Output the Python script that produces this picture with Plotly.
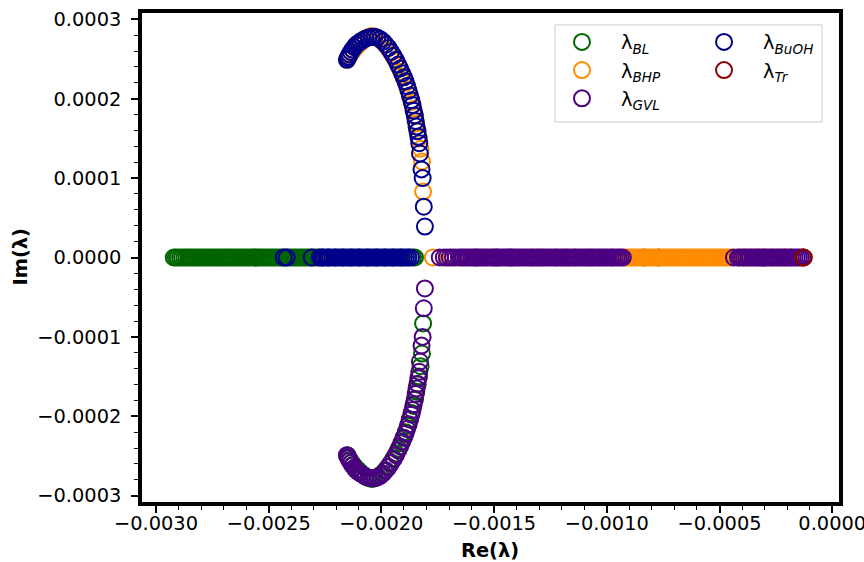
import plotly.graph_objects as go

SCALE = 1e-6  # values below are in micro-units

# ---------------- real eigenvalues (Im = 0) ----------------
bl_real = [-2921, -2912, -2903, -2893, -2884, -2874, -2865, -2856, -2846, -2837, -2828, -2818,
           -2809, -2800, -2790, -2781, -2772, -2762, -2753, -2744, -2734, -2725, -2716, -2706,
           -2697, -2688, -2678, -2669, -2660, -2650, -2641, -2632, -2622, -2613, -2604, -2594,
           -2585, -2576, -2566, -2557, -2548, -2538, -2529, -2520, -2510, -2501, -2492, -2482,
           -2473, -2464, -2454, -2445, -2436, -2426, -2417, -2408, -2398, -2389, -2380, -2370,
           -2361, -2352, -2342, -2333, -2324, -2314, -2305, -2296, -2286, -2277,
           -2262, -2235, -2204, -2171, -2135, -2098, -2060, -2022, -1985, -1948, -1912, -1880,
           -1860, -1851, -1580, -1490, -836, -770]
bhp_real = [-1772, -1690, -1563, -1497, -1420, -1329, -1297, -1222, -1177, -1142, -1075, -1030,
            -975, -921, -912, -903, -893, -884, -875, -865, -856, -847, -837, -828, -819, -809,
            -800, -791, -781, -772, -763, -753, -744, -735, -725, -716, -707, -697, -688, -679,
            -669, -660, -651, -641, -632, -623, -613, -604, -595, -585, -576, -567, -557, -548,
            -539, -529, -520, -511, -501, -492, -483, -473, -464, -455, -445,
            -420, -390, -360, -330, -300, -270, -240, -210, -185]
gvl_real = [-1741, -1723, -1710, -1697, -1683, -1670, -1656, -1647, -1638, -1628, -1619, -1610,
            -1600, -1591, -1582, -1572, -1563, -1554, -1544, -1535, -1526, -1516, -1507, -1498,
            -1488, -1479, -1470, -1460, -1451, -1442, -1432, -1423, -1414, -1404, -1395, -1386,
            -1376, -1367, -1358, -1348, -1339, -1330, -1320, -1311, -1302, -1292, -1283, -1274,
            -1264, -1255, -1246, -1236, -1227, -1218, -1208, -1199, -1190, -1180, -1171, -1162,
            -1152, -1143, -1134, -1124, -1115, -1106, -1096, -1087, -1078, -1068, -1059, -1050,
            -1040, -1031, -1022, -1012, -1003, -994, -984, -975, -966, -956, -947, -938, -929,
            -436, -418, -409, -400, -391, -381, -372, -363, -353, -344, -335, -325, -316, -307,
            -297, -288, -279, -269, -260, -251, -241, -232, -223, -213, -204, -195, -185, -176,
            -167, -157, -148, -139, -130]
buoh_real = [-2433, -2420, -2309, -2273, -2264, -2255, -2245, -2236, -2227, -2217, -2208, -2199,
             -2189, -2180, -2171, -2161, -2152, -2143, -2133, -2124, -2115, -2105, -2096, -2087,
             -2077, -2068, -2059, -2049, -2040, -2031, -2021, -2012, -2003, -1993, -1984, -1975,
             -1965, -1956, -1947, -1937, -1928, -1919, -1909, -1900, -1891, -1881, -1869]
tr_real = [-128, -126]

# ---------------- complex branches ----------------
buoh_arc_re = [-1807, -1812, -1817, -1822, -1829, -1832, -1836, -1840, -1844, -1848, -1852, -1857,
               -1862, -1867, -1873, -1879, -1886, -1893, -1900, -1908, -1917, -1926, -1936, -1946,
               -1957, -1968, -1980, -1992, -2005, -2018, -2031, -2044, -2057, -2070, -2082, -2093,
               -2103, -2112, -2120, -2128, -2135, -2141, -2146, -2150, -2153]
buoh_arc_im = [39, 64, 100, 111, 131, 144, 152, 159, 165, 172, 179, 185,
               192, 198, 204, 210, 216, 222, 227, 232, 238, 243, 249, 254,
               259, 264, 268, 272, 275, 277, 278, 278, 277, 276, 274, 272,
               270, 268, 265, 262, 259, 256, 253, 251, 249]
bhp_arc_re = [-1815, -1820, -1826, -1833, -1839, -1845, -1851, -1858, -1866, -1874, -1883, -1892,
              -1902, -1912, -1923, -1934, -1946, -1959, -1972, -1986, -2000, -2014, -2028, -2042,
              -2056, -2070, -2083, -2095, -2106, -2116, -2125, -2133, -2140, -2146, -2151]
bhp_arc_im = [83, 121, 137, 150, 160, 169, 178, 187, 196, 204, 212, 220,
              227, 234, 241, 247, 253, 259, 264, 269, 273, 276, 278, 279,
              278, 276, 273, 270, 267, 264, 261, 258, 255, 252, 249]
gvl_arc_re = [-1807, -1812, -1817, -1822, -1829, -1832, -1836, -1840, -1844, -1848, -1852, -1857,
              -1862, -1867, -1873, -1879, -1886, -1893, -1900, -1908, -1917, -1926, -1936, -1946,
              -1957, -1968, -1980, -1992, -2005, -2018, -2031, -2044, -2057, -2070, -2082, -2093,
              -2103, -2112, -2120, -2128, -2135, -2141, -2146, -2150, -2153]
gvl_arc_im = [-39, -64, -100, -111, -131, -144, -152, -159, -165, -172, -179, -185,
              -192, -198, -204, -210, -216, -222, -227, -232, -238, -243, -249, -254,
              -259, -264, -268, -272, -275, -277, -278, -278, -277, -276, -274, -272,
              -270, -268, -265, -262, -259, -256, -253, -251, -249]
bl_arc_re = [-1815, -1820, -1826, -1833, -1839, -1845, -1851, -1858, -1866, -1874, -1883, -1892,
             -1902, -1912, -1923, -1934, -1946, -1959, -1972, -1986, -2000, -2014, -2028, -2042,
             -2056, -2070, -2083, -2095, -2106, -2116, -2125, -2133, -2140, -2146, -2151]
bl_arc_im = [-83, -121, -137, -150, -160, -169, -178, -187, -196, -204, -212, -220,
             -227, -234, -241, -247, -253, -259, -264, -269, -273, -276, -278, -279,
             -278, -276, -273, -270, -267, -264, -261, -258, -255, -252, -249]

series = [
    # name, label, color, real list, arc re, arc im, legend
    ("BL", "λ<sub><i>BL</i></sub>", "#006400", bl_real, bl_arc_re, bl_arc_im, "legend"),
    ("BHP", "λ<sub><i>BHP</i></sub>", "#ff8c00", bhp_real, bhp_arc_re, bhp_arc_im, "legend"),
    ("GVL", "λ<sub><i>GVL</i></sub>", "#4b0082", gvl_real, gvl_arc_re, gvl_arc_im, "legend"),
    ("BuOH", "λ<sub><i>BuOH</i></sub>", "#00008b", buoh_real, buoh_arc_re, buoh_arc_im, "legend2"),
    ("Tr", "λ<sub><i>Tr</i></sub>", "#8b0000", tr_real, [], [], "legend2"),
]

fig = go.Figure()
for i, (key, label, color, real, are, aim, leg) in enumerate(series):
    xs = [v * SCALE for v in real] + [v * SCALE for v in are]
    ys = [0.0] * len(real) + [v * SCALE for v in aim]
    fig.add_trace(go.Scatter(
        x=xs, y=ys, mode="markers", name=label, legend=leg, legendgroup=key,
        marker=dict(symbol="circle-open", size=16, color=color, line=dict(width=2)),
    ))

FONT = "DejaVu Sans"
axis_common = dict(
    showline=True, linecolor="black", linewidth=3.5, mirror=True, automargin=False,
    ticks="outside", ticklen=7, tickwidth=1.5, tickcolor="black",
    showgrid=False, zeroline=False, tickformat=".4f", ticklabeloverflow="allow",
    tickfont=dict(family=FONT, size=19.4, color="black"),
)
fig.update_xaxes(
    range=[-0.003062, 0.000030], tick0=0, dtick=0.0005,
    minor=dict(ticks="outside", ticklen=4, tickwidth=1.2, tickcolor="black", dtick=0.0001),
    ticklabelstandoff=-6,
    **axis_common,
)
fig.update_yaxes(
    range=[-0.000308, 0.000308], tick0=0, dtick=0.0001,
    minor=dict(ticks="outside", ticklen=4, tickwidth=1.2, tickcolor="black", dtick=0.00002),
    ticklabelstandoff=6,
    **axis_common,
)

legend_common = dict(
    bgcolor="rgba(0,0,0,0)", borderwidth=0, yanchor="top", xanchor="left",
    font=dict(family=FONT, size=19.4, color="black"), tracegroupgap=0, itemwidth=68,
)
title_font = dict(family=FONT, size=19.4, color="black")
fig.update_layout(
    template="none",
    width=864, height=562,
    margin=dict(l=142, r=25, t=13, b=60),
    paper_bgcolor="white", plot_bgcolor="white",
    font=dict(family=FONT, color="black"),
    legend=dict(x=0.5753, y=0.980, **legend_common),
    legend2=dict(x=0.7791, y=0.980, **legend_common),
    shapes=[dict(type="rect", xref="paper", yref="paper", x0=0.5925, x1=0.9756, y0=0.7771, y1=0.9755,
                 line=dict(color="#cccccc", width=1), fillcolor="rgba(255,255,255,0.8)", layer="above")],
    annotations=[
        dict(text="<b>Re(λ)</b>", xref="paper", yref="paper", x=0.4993, y=-0.1002,
             xanchor="center", yanchor="middle", showarrow=False, font=title_font),
        dict(text="<b>Im(λ)</b>", xref="paper", yref="paper", x=-0.175, y=0.5, textangle=-90,
             xanchor="center", yanchor="middle", showarrow=False, font=title_font),
    ],
)

fig.write_html("out.html", config={"displayModeBar": False},
               post_script="document.body.style.margin='0';document.documentElement.style.margin='0';")
